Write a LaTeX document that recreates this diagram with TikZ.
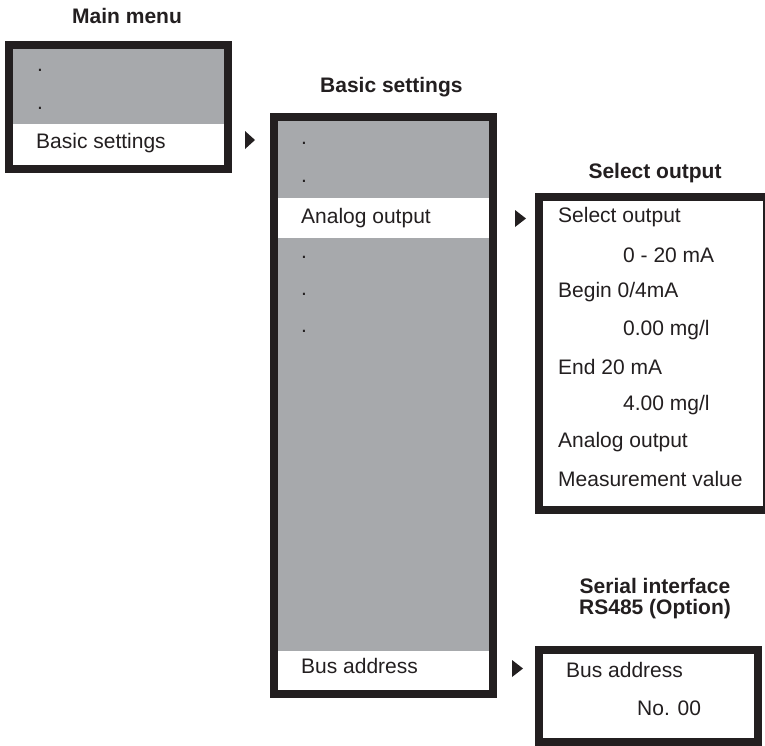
\documentclass[tikz,border=0pt]{standalone}
\usepackage{fontspec}
\setmainfont{Liberation Sans}
\definecolor{boxgray}{HTML}{A7A9AC}
\definecolor{ink}{HTML}{231F20}
\tikzset{
  frame/.style={draw=ink, line width=8pt, rectangle, inner sep=0pt},
  band/.style={fill=boxgray},
  txt/.style={anchor=west, inner sep=0pt, font=\fontsize{21}{24}\selectfont, text=ink},
  ttl/.style={inner sep=0pt, font=\fontsize{21}{25}\selectfont\bfseries, text=ink, align=center},
  tri/.style={fill=ink}
}
\begin{document}
\begin{tikzpicture}[x=1pt,y=-1pt]
\useasboundingbox (0,0) rectangle (765,745);
\clip (0,0) rectangle (765,745);
\fill[white] (0,0) rectangle (765,745);

% ---------- Main menu ----------
\node[ttl, anchor=west] (t1) at (72,16) {Main menu};
\fill[band] (13,49) rectangle (224,124);
\node[frame, minimum width=219pt, minimum height=124pt] (m1) at (118.5,107) {};
\node[txt] (m1d1) at (37,70) {.};
\node[txt] (m1d2) at (37,108) {.};
\node[txt] (m1s) at (36,143) {Basic settings};

% arrow 1
\fill[tri] (245,131) -- (255,140) -- (245,149) -- cycle;

% ---------- Basic settings ----------
\node[ttl, anchor=west] (t2) at (320,87) {Basic settings};
\fill[band] (278,121) rectangle (489,198);
\fill[band] (278,238) rectangle (489,651);
\node[frame, minimum width=219pt, minimum height=577pt] (m2) at (383.5,405.5) {};
\node[txt] (m2d1) at (301,143) {.};
\node[txt] (m2d2) at (301,181) {.};
\node[txt] (m2a) at (301,218) {Analog output};
\node[txt] (m2d3) at (301,257) {.};
\node[txt] (m2d4) at (301,294) {.};
\node[txt] (m2d5) at (301,331) {.};
\node[txt] (m2b) at (301,666) {Bus address};

% arrow 2
\fill[tri] (515,210) -- (526,218.5) -- (515,227) -- cycle;

% ---------- Select output ----------
\node[ttl] (t3) at (655,173) {Select output};
\node[frame, minimum width=228pt, minimum height=313pt] (m3) at (653,353.5) {};
\node[txt] (s1) at (558,217) {Select output};
\node[txt] (s2) at (623,255) {0 - 20 mA};
\node[txt] (s3) at (558,292) {Begin 0/4mA};
\node[txt] (s4) at (623,330) {0.00 mg/l};
\node[txt] (s5) at (558,367) {End 20 mA};
\node[txt] (s6) at (623,405) {4.00 mg/l};
\node[txt] (s7) at (558,442) {Analog output};
\node[txt] (s8) at (558,479) {Measurement value};

% arrow 3
\fill[tri] (512,660) -- (523,668.5) -- (512,677) -- cycle;

% ---------- Serial interface ----------
\node[ttl] (t4) at (655,599) {Serial interface\\[-4pt]RS485 (Option)};
\node[frame, minimum width=219pt, minimum height=92pt] (m4) at (648.5,696) {};
\node[txt] (b1) at (566,670) {Bus address};
\node[txt] (b2) at (637,708) {No. 00};
\end{tikzpicture}
\end{document}
